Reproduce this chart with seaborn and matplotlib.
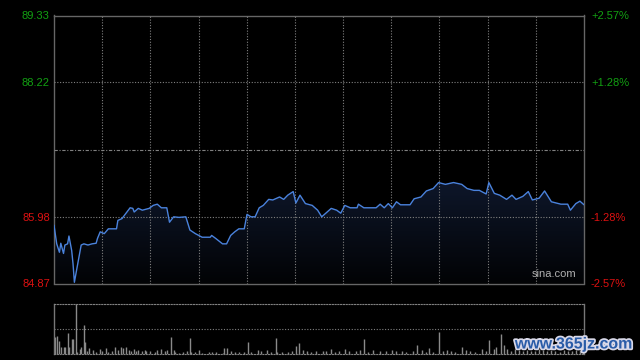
import matplotlib
matplotlib.use("Agg")
import matplotlib.pyplot as plt
import matplotlib.patheffects as pe
from matplotlib.colors import LinearSegmentedColormap
import seaborn as sns
import pandas as pd
import numpy as np

# intraday price (minute index, price)
minutes = [0, 2, 4, 5, 7, 8, 10, 11, 13, 14, 15, 17, 20, 22, 25, 28, 31, 32, 34, 37,
           40, 46, 47, 50, 52, 56, 58, 59, 62, 65, 70, 73, 76, 79, 83, 85, 88, 92, 97, 100,
           104, 109, 115, 116, 119, 124, 127, 130, 133, 136, 140, 142, 145, 148, 151, 154, 158, 161, 166, 169,
           172, 176, 178, 181, 185, 190, 194, 197, 200, 204, 208, 211, 214, 218, 223, 224, 228, 237, 240, 243,
           246, 249, 252, 255, 262, 265, 270, 274, 279, 283, 288, 294, 300, 304, 309, 313, 318, 320, 324, 328,
           333, 337, 340, 345, 349, 352, 357, 361, 366, 373, 378, 380, 384, 387, 390]
prices = [85.84, 85.53, 85.39, 85.54, 85.37, 85.51, 85.53, 85.66, 85.42, 85.20, 84.89, 85.14, 85.51, 85.53, 85.51, 85.53, 85.54, 85.62, 85.73, 85.70,
          85.78, 85.78, 85.92, 85.95, 86.01, 86.13, 86.12, 86.06, 86.12, 86.09, 86.12, 86.17, 86.19, 86.13, 86.13, 85.89, 85.98, 85.97, 85.98, 85.76,
          85.70, 85.64, 85.64, 85.67, 85.62, 85.53, 85.53, 85.67, 85.73, 85.78, 85.78, 86.02, 85.98, 85.98, 86.13, 86.17, 86.27, 86.26, 86.31, 86.27,
          86.34, 86.40, 86.21, 86.34, 86.20, 86.17, 86.09, 85.98, 86.04, 86.12, 86.09, 86.04, 86.17, 86.13, 86.13, 86.19, 86.13, 86.13, 86.19, 86.13,
          86.20, 86.13, 86.23, 86.18, 86.18, 86.28, 86.31, 86.41, 86.45, 86.55, 86.52, 86.55, 86.52, 86.45, 86.42, 86.42, 86.36, 86.55, 86.37, 86.34,
          86.27, 86.34, 86.27, 86.32, 86.40, 86.26, 86.29, 86.41, 86.23, 86.19, 86.19, 86.09, 86.20, 86.24, 86.18]

# volume bars (minute index, relative volume)
vol_minutes = [1, 2, 4, 5, 7, 8, 10, 11, 13, 14, 16, 17, 19, 20, 22, 23, 24, 26, 29, 31,
               34, 35, 38, 40, 43, 45, 47, 49, 51, 53, 55, 57, 59, 60, 62, 65, 67, 68, 71, 74,
               76, 79, 82, 83, 86, 88, 89, 92, 95, 98, 100, 101, 104, 107, 109, 114, 116, 119, 124, 125,
               127, 130, 133, 136, 140, 143, 145, 150, 152, 157, 160, 163, 164, 168, 172, 175, 178, 180, 183, 186,
               189, 193, 198, 200, 204, 207, 210, 214, 217, 222, 225, 228, 231, 235, 240, 244, 249, 252, 256, 259,
               264, 267, 271, 274, 276, 279, 283, 286, 289, 292, 295, 300, 303, 306, 310, 315, 318, 320, 324, 325,
               329, 331, 333, 336, 339, 342, 345, 348, 351, 354, 357, 360, 363, 366, 369, 372, 375, 378, 381, 384,
               387, 389]
volumes = [35, 37, 27, 15, 15, 15, 43, 15, 30, 30, 100, 5, 10, 15, 59, 25, 7, 12, 9, 5,
           11, 7, 12, 5, 7, 14, 9, 14, 12, 14, 9, 7, 10, 7, 8, 7, 9, 7, 7, 5,
           9, 10, 7, 9, 35, 9, 5, 3, 5, 7, 33, 5, 5, 9, 3, 5, 4, 5, 3, 12,
           13, 7, 4, 4, 5, 24, 5, 9, 7, 9, 5, 32, 5, 5, 5, 7, 17, 23, 9, 6,
           5, 6, 7, 6, 10, 5, 7, 10, 7, 7, 9, 31, 5, 9, 7, 7, 9, 6, 7, 5,
           6, 19, 9, 5, 12, 5, 45, 7, 9, 7, 5, 14, 9, 7, 5, 10, 7, 29, 10, 15,
           41, 19, 10, 7, 11, 8, 6, 9, 7, 6, 10, 8, 7, 9, 6, 5, 8, 7, 6, 9,
           8, 6]

prev_close = 87.10
left_ticks = [89.33, 88.22, 85.98, 84.87]
left_labels = ["89.33", "88.22", "85.98", "84.87"]
right_labels = ["+2.57%", "+1.28%", "-1.28%", "-2.57%"]
tick_colors = ["#12a012", "#12a012", "#dd1111", "#dd1111"]

df = pd.DataFrame({"minute": minutes, "price": prices})

sns.set_theme(style="dark")
plt.rcParams["font.family"] = ["Liberation Sans", "DejaVu Sans"]

fig = plt.figure(figsize=(6.4, 3.6), dpi=100, facecolor="black")
ax = fig.add_axes([54 / 640, 1 - 283.5 / 360, 530 / 640, 268 / 360])
axv = fig.add_axes([54 / 640, 1 - 354 / 360, 530 / 640, 50 / 360])

grid_col = "#808080"
ymin, ymax = 84.87, 89.33
for a in (ax, axv):
    a.set_facecolor("black")
    a.set_xlim(0, 390)
    a.grid(False)
    a.set_xticks([])

# price line with dark gradient fill below
sns.lineplot(data=df, x="minute", y="price", ax=ax, color="#4a82dc", lw=1.0, zorder=4)
poly = ax.fill_between(minutes, prices, ymin, color="none", lw=0)
cmap = LinearSegmentedColormap.from_list("fill", ["#020305", "#0e172b"])
im = ax.imshow(np.linspace(0, 1, 256).reshape(-1, 1), extent=[0, 390, ymin, 86.6],
               aspect="auto", cmap=cmap, origin="lower", zorder=2)
im.set_clip_path(poly.get_paths()[0], transform=ax.transData)
ax.set_ylim(ymin, ymax)
ax.set_xlim(0, 390)

# grid
for xv in np.linspace(0, 390, 12)[1:-1]:
    ax.axvline(xv, color=grid_col, lw=0.8, ls=(0, (1, 1.5)), zorder=3)
for yv in [88.22, 85.98]:
    ax.axhline(yv, color=grid_col, lw=0.8, ls=(0, (1, 1.5)), zorder=3)
ax.axhline(prev_close, color=grid_col, lw=0.8, ls=(0, (3, 1.5, 1, 1.5)), zorder=3)

for s in ax.spines.values():
    s.set_color("#666666")
    s.set_linewidth(1)
    s.set_visible(True)

ax.set_yticks(left_ticks)
ax.set_yticklabels(left_labels)
ax.tick_params(axis="y", length=0, pad=3, labelsize=8)
for lab, c in zip(ax.get_yticklabels(), tick_colors):
    lab.set_color(c)
ax2 = ax.twinx()
ax2.set_ylim(ymin, ymax)
ax2.set_yticks(left_ticks)
ax2.set_yticklabels(right_labels)
ax2.tick_params(axis="y", length=0, pad=5, labelsize=8)
for lab, c in zip(ax2.get_yticklabels(), tick_colors):
    lab.set_color(c)
for s in ax2.spines.values():
    s.set_visible(False)
ax.set_xlabel("")
ax.set_ylabel("")

ax.text(0.985, 0.015, "sina.com", transform=ax.transAxes, ha="right", va="bottom",
        color="#b0b0b0", fontsize=8, zorder=5)

# volume panel
axv.vlines(vol_minutes, 0, volumes, color="#8a8a8a", lw=1)
axv.set_ylim(0, max(volumes))
axv.set_yticks([])
axv.axhline(max(volumes) / 2, color=grid_col, lw=0.8, ls=(0, (1, 1.5)))
for k in ["top", "bottom"]:
    axv.spines[k].set_color(grid_col)
    axv.spines[k].set_linestyle((0, (1, 1.5)))
    axv.spines[k].set_linewidth(0.8)
for k in ["left", "right"]:
    axv.spines[k].set_color("#777777")
    axv.spines[k].set_linewidth(1)

fig.text(574 / 640, 1 - 344 / 360, "www.365jz.com", ha="center", va="center",
         color="#2a5ca8", fontsize=11.5, fontweight="bold",
         path_effects=[pe.withStroke(linewidth=2.5, foreground="#d8d8e8")], zorder=10)

fig.savefig("out.png", dpi=100, facecolor="black")
